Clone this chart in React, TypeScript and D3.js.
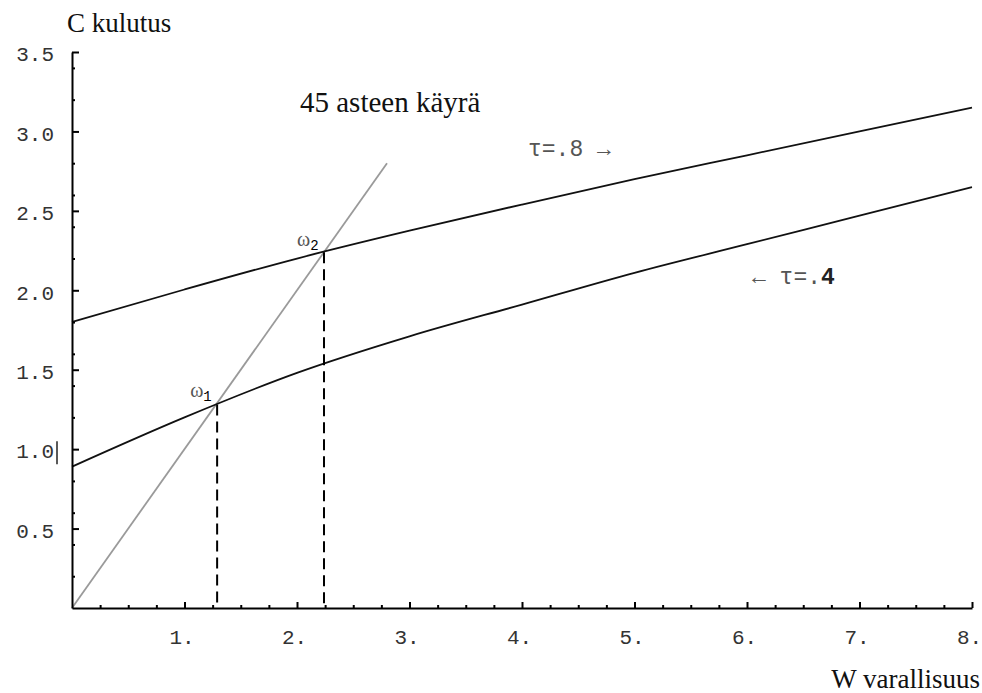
import React, { useEffect, useRef } from 'react';
import * as d3 from 'd3';

const wealth = [0, 1, 2, 3, 4, 5, 6, 7, 8];
// consumption, tau = .8 (upper curve)
const consHigh = [1.8, 2.005, 2.2, 2.375, 2.54, 2.7, 2.85, 3.0, 3.15];
// consumption, tau = .4 (lower curve)
const consLow = [0.89, 1.2, 1.48, 1.71, 1.91, 2.11, 2.29, 2.47, 2.65];
// 45 degree line runs from W=0 to W=2.8
const diagonal = [0, 2.8];
// fixed points omega1, omega2
const omegas = [1.29, 2.24];

const xTicks = [1, 2, 3, 4, 5, 6, 7, 8];
const xMinor = [0.25, 0.5, 0.75, 1.25, 1.5, 1.75, 2.25, 2.5, 2.75, 3.25, 3.5, 3.75, 4.25, 4.5, 4.75,
  5.25, 5.5, 5.75, 6.25, 6.5, 6.75, 7.25, 7.5, 7.75];
const yTicks = [0.5, 1.0, 1.5, 2.0, 2.5, 3.0, 3.5];
const yMinor = [0.2, 0.4, 0.6, 0.8, 1.2, 1.4, 1.6, 1.8, 2.2, 2.4, 2.6, 2.8, 3.2, 3.4];

const width = 982;
const height = 693;
const margin = { left: 72, right: 10, top: 52, bottom: 85 };

const mono = '"Liberation Mono", "DejaVu Sans Mono", monospace';
const serif = '"Liberation Serif", "DejaVu Serif", serif';

export default function App() {
  const axRef = useRef<SVGGElement>(null);

  const x = d3.scaleLinear().domain([0, 8]).range([margin.left, width - margin.right]);
  const y = d3.scaleLinear().domain([0, 3.5]).range([height - margin.bottom, margin.top]);

  const line = d3.line<number>()
    .x((d, i) => x(wealth[i]))
    .y(d => y(d))
    .curve(d3.curveMonotoneX);

  useEffect(() => {
    const g = d3.select(axRef.current);
    g.selectAll('*').remove();

    const yAxis = g.append('g').attr('transform', `translate(${x(0)},0)`)
      .call(d3.axisLeft(y).tickValues(yTicks).tickSize(-7).tickSizeOuter(0).tickPadding(18)
        .tickFormat(d3.format('.1f') as any));
    g.append('g').attr('transform', `translate(${x(0)},0)`)
      .call(d3.axisLeft(y).tickValues(yMinor).tickSize(-3).tickSizeOuter(0).tickFormat(() => ''))
      .select('.domain').remove();

    const xAxis = g.append('g').attr('transform', `translate(0,${y(0)})`)
      .call(d3.axisBottom(x).tickValues(xTicks).tickSize(-6).tickSizeOuter(0).tickPadding(21)
        .tickFormat(d => `${d}.`));
    g.append('g').attr('transform', `translate(0,${y(0)})`)
      .call(d3.axisBottom(x).tickValues(xMinor).tickSize(-3).tickSizeOuter(0).tickFormat(() => ''))
      .select('.domain').remove();

    [yAxis, xAxis].forEach(a => {
      a.select('.domain').attr('stroke', '#000').attr('stroke-width', 2);
      a.selectAll('text').attr('font-family', mono).attr('font-size', 21).attr('fill', '#333');
    });
    yAxis.selectAll('text').attr('dy', '0.42em');
    xAxis.selectAll('text').attr('dx', -3);
    g.selectAll('.tick line').attr('stroke', '#000').attr('stroke-width', 2);
  }, []);

  const lowAt = (w: number) => {
    // read the lower curve value at w from the drawn points
    const i = d3.bisectLeft(wealth, w);
    const t = (w - wealth[i - 1]) / (wealth[i] - wealth[i - 1]);
    return consLow[i - 1] + t * (consLow[i] - consLow[i - 1]);
  };

  return (
    <svg width={width} height={height} style={{ position: 'absolute', left: 0, top: 0, background: '#fff' }}>
      <rect width={width} height={height} fill="#fff" />
      <line x1={x(diagonal[0])} y1={y(diagonal[0])} x2={x(diagonal[1])} y2={y(diagonal[1])}
        stroke="#9a9a9a" strokeWidth={1.8} />
      <path d={line(consHigh) || ''} fill="none" stroke="#111" strokeWidth={1.8} />
      <path d={line(consLow) || ''} fill="none" stroke="#111" strokeWidth={1.8} />
      {omegas.map((w, i) => (
        <line key={i} x1={x(w)} x2={x(w)} y1={y(i === 0 ? lowAt(w) : w)} y2={y(0)}
          stroke="#000" strokeWidth={2} strokeDasharray="11,6" />
      ))}
      <g ref={axRef} />
      {/* stray bar next to 1.0 label */}
      <line x1={57} x2={57} y1={y(1.0) - 8} y2={y(1.0) + 15} stroke="#222" strokeWidth={1.5} />

      {omegas.map((w, i) => (
        <text key={'o' + i} x={x(w) - 27} y={y(w) - 6} fontFamily={serif} fontSize={20} fill="#555">
          ω<tspan fontFamily={mono} fontSize={14} dy={4} fill="#000">{i + 1}</tspan>
        </text>
      ))}

      <text x={67} y={32} fontFamily={serif} fontSize={27} fill="#111">C kulutus</text>
      <text x={980} y={688} textAnchor="end" fontFamily={serif} fontSize={27} fill="#111">W varallisuus</text>
      <text x={300} y={112} fontFamily={serif} fontSize={29} fill="#111">45 asteen käyrä</text>
      <text x={528} y={156} fontFamily={mono} fontSize={23} fill="#555">τ=.8 →</text>
      <text x={752} y={284} fontFamily={mono} fontSize={23} fill="#555">
        ← τ=.<tspan fontWeight="bold" fill="#222">4</tspan>
      </text>
    </svg>
  );
}
